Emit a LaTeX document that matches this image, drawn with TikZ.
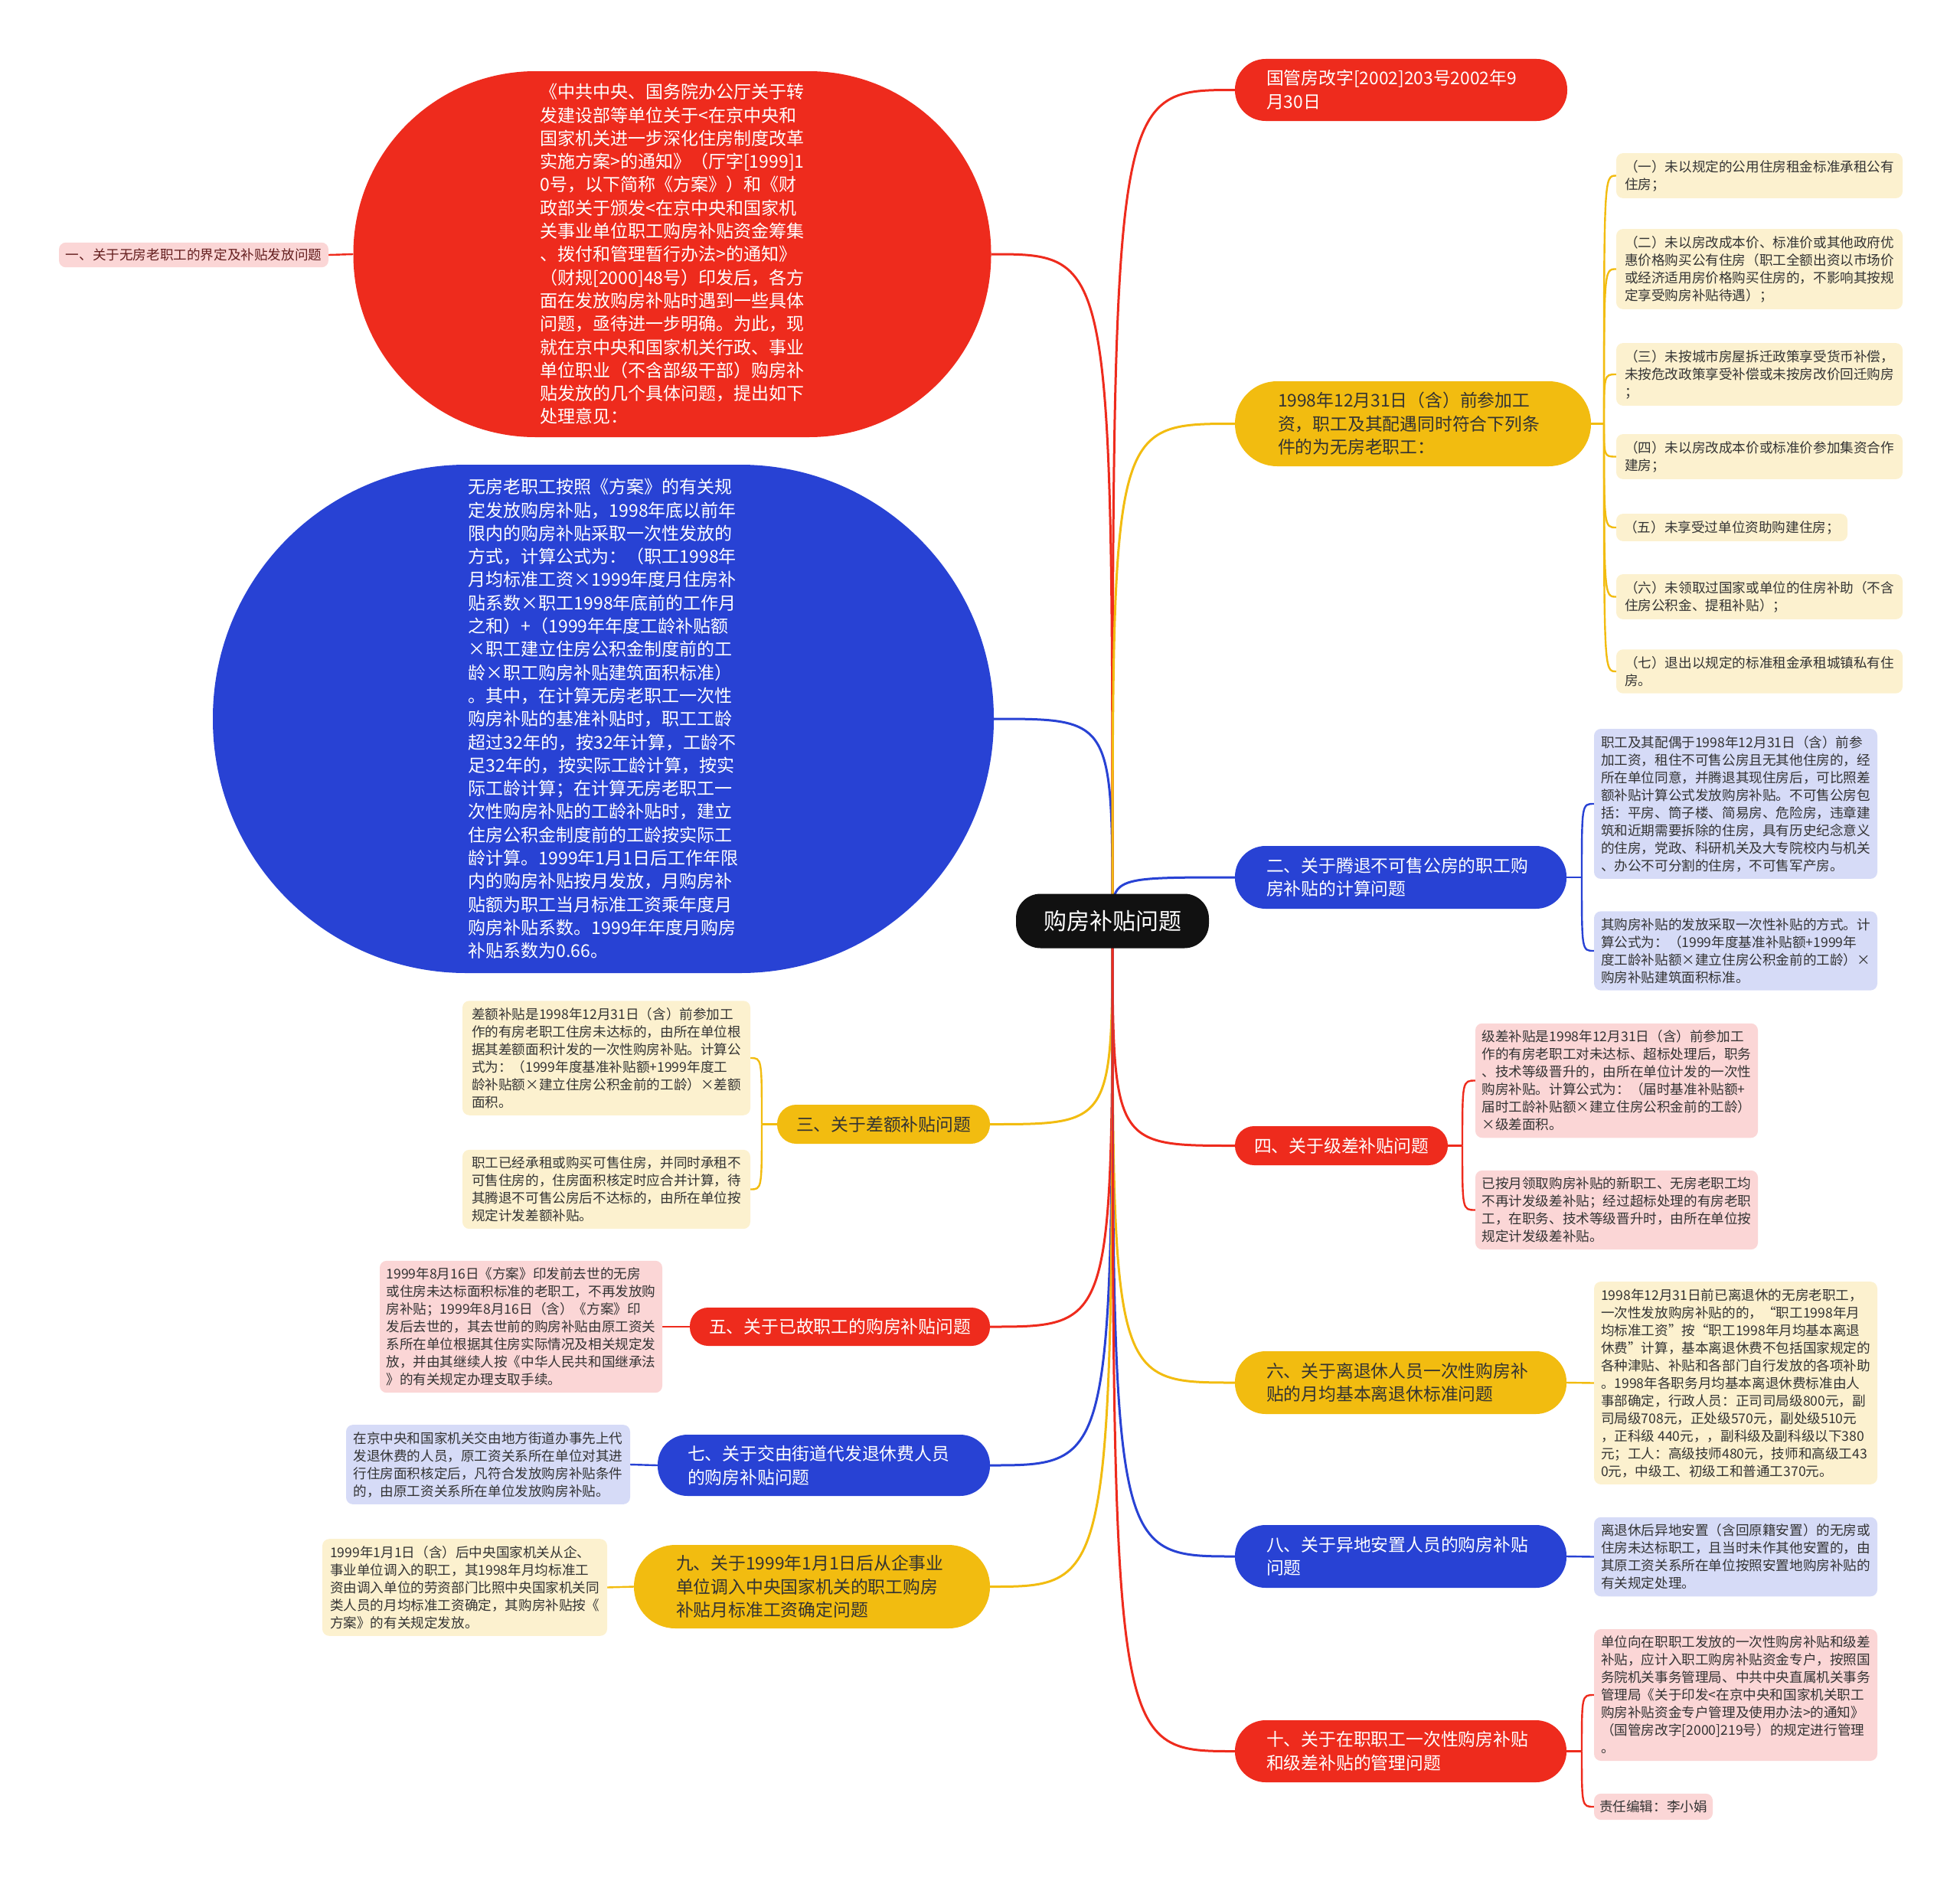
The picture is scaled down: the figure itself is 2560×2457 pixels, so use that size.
\documentclass[tikz,border=0pt]{standalone}
\usepackage{fontspec}
\setmainfont{Noto Sans CJK SC}
\usetikzlibrary{backgrounds}
\definecolor{cred}{RGB}{238,43,29}
\definecolor{cblue}{RGB}{40,66,212}
\definecolor{cyel}{RGB}{242,188,16}
\definecolor{lyel}{RGB}{252,241,207}
\definecolor{lblue}{RGB}{214,219,247}
\definecolor{lpink}{RGB}{251,214,214}
\definecolor{ctext}{RGB}{51,51,51}
\definecolor{ltext}{RGB}{100,30,30}
\definecolor{cblack}{RGB}{17,17,17}
\tikzset{
  mainbox/.style={rectangle, inner sep=0pt, align=left, font=\fontsize{22.8}{30.5}\selectfont},
  ovaltext/.style={inner sep=0pt, align=left, text=white, font=\fontsize{23}{30.3}\selectfont},
  leaf/.style={rectangle, rounded corners=9, inner xsep=0pt, inner ysep=9pt, align=left, text=ctext, font=\fontsize{17.6}{23}\selectfont},
  mainline/.style={line width=3pt},
  subline/.style={line width=2.4pt},
}
\begin{document}
\begin{tikzpicture}[x=1pt,y=-1pt]
\useasboundingbox (0,0) rectangle (2560,2457);

% center
\node[fill=cblack, text=white, minimum width=252, minimum height=71, rounded corners=32, inner sep=0pt, font=\fontsize{30}{36}\selectfont] (ctr) at (1453,1203) {购房补贴问题};

% red oval
\node[fill=cred, minimum width=833, minimum height=478, rounded corners=238, inner sep=0pt] (E1) at (878,332) {};
\node[ovaltext] (E1t) at (E1.center) {《中共中央、国务院办公厅关于转\\发建设部等单位关于<在京中央和\\国家机关进一步深化住房制度改革\\实施方案>的通知》（厅字[1999]1\\0号，以下简称《方案》）和《财\\政部关于颁发<在京中央和国家机\\关事业单位职工购房补贴资金筹集\\、拨付和管理暂行办法>的通知》\\（财规[2000]48号）印发后，各方\\面在发放购房补贴时遇到一些具体\\问题，亟待进一步明确。为此，现\\就在京中央和国家机关行政、事业\\单位职业（不含部级干部）购房补\\贴发放的几个具体问题，提出如下\\处理意见：};
\node[leaf, fill=lpink, text=ltext, minimum width=352, inner ysep=8pt] (L1) at (253,333) {一、关于无房老职工的界定及补贴发放问题};

% blue oval
\node[fill=cblue, minimum width=1020, minimum height=664, rounded corners=331, inner sep=0pt] (E2) at (788,939) {};
\node[ovaltext] (E2t) at (E2.center) {无房老职工按照《方案》的有关规\\定发放购房补贴，1998年底以前年\\限内的购房补贴采取一次性发放的\\方式，计算公式为：（职工1998年\\月均标准工资×1999年度月住房补\\贴系数×职工1998年底前的工作月\\之和）+（1999年年度工龄补贴额\\×职工建立住房公积金制度前的工\\龄×职工购房补贴建筑面积标准）\\。其中，在计算无房老职工一次性\\购房补贴的基准补贴时，职工工龄\\超过32年的，按32年计算，工龄不\\足32年的，按实际工龄计算，按实\\际工龄计算；在计算无房老职工一\\次性购房补贴的工龄补贴时，建立\\住房公积金制度前的工龄按实际工\\龄计算。1999年1月1日后工作年限\\内的购房补贴按月发放，月购房补\\贴额为职工当月标准工资乘年度月\\购房补贴系数。1999年年度月购房\\补贴系数为0.66。};

% left branches
\node[mainbox, fill=cyel, text=ctext, minimum width=278, minimum height=51, rounded corners=25, align=center] (L3) at (1154,1468.5) {三、关于差额补贴问题};
\node[leaf, fill=lyel, minimum width=376] (L3a) at (792,1382) {差额补贴是1998年12月31日（含）前参加工\\作的有房老职工住房未达标的，由所在单位根\\据其差额面积计发的一次性购房补贴。计算公\\式为：（1999年度基准补贴额+1999年度工\\龄补贴额×建立住房公积金前的工龄）×差额\\面积。};
\node[leaf, fill=lyel, minimum width=376] (L3b) at (792,1553.5) {职工已经承租或购买可售住房，并同时承租不\\可售住房的，住房面积核定时应合并计算，待\\其腾退不可售公房后不达标的，由所在单位按\\规定计发差额补贴。};

\node[mainbox, fill=cred, text=white, minimum width=392, minimum height=50, rounded corners=24, align=center] (L5) at (1097,1733) {五、关于已故职工的购房补贴问题};
\node[leaf, fill=lpink, minimum width=369] (L5a) at (680.5,1733) {1999年8月16日《方案》印发前去世的无房\\或住房未达标面积标准的老职工，不再发放购\\房补贴；1999年8月16日（含）《方案》印\\发后去世的，其去世前的购房补贴由原工资关\\系所在单位根据其住房实际情况及相关规定发\\放，并由其继续人按《中华人民共和国继承法\\》的有关规定办理支取手续。};

\node[mainbox, fill=cblue, text=white, minimum width=434, minimum height=80, rounded corners=39, text width=356] (L7) at (1076,1914) {七、关于交由街道代发退休费人员\\的购房补贴问题};
\node[leaf, fill=lblue, minimum width=371] (L7a) at (637.5,1913) {在京中央和国家机关交由地方街道办事先上代\\发退休费的人员，原工资关系所在单位对其进\\行住房面积核定后，凡符合发放购房补贴条件\\的，由原工资关系所在单位发放购房补贴。};

\node[mainbox, fill=cyel, text=ctext, minimum width=465, minimum height=109, rounded corners=54, text width=355] (L9) at (1060.5,2072.5) {九、关于1999年1月1日后从企事业\\单位调入中央国家机关的职工购房\\补贴月标准工资确定问题};
\node[leaf, fill=lyel, minimum width=372] (L9a) at (607,2073.5) {1999年1月1日（含）后中央国家机关从企、\\事业单位调入的职工，其1998年月均标准工\\资由调入单位的劳资部门比照中央国家机关同\\类人员的月均标准工资确定，其购房补贴按《\\方案》的有关规定发放。};

% right branches
\node[mainbox, fill=cred, text=white, minimum width=434, minimum height=81, rounded corners=40, text width=352] (R0) at (1830,117.5) {国管房改字[2002]203号2002年9\\月30日};

\node[mainbox, fill=cyel, text=ctext, minimum width=465, minimum height=111, rounded corners=55, text width=353] (R1) at (1845.5,553.5) {1998年12月31日（含）前参加工\\资，职工及其配遇同时符合下列条\\件的为无房老职工：};
\node[leaf, fill=lyel, minimum width=374] (R1a) at (2298,229.5) {（一）未以规定的公用住房租金标准承租公有\\住房；};
\node[leaf, fill=lyel, minimum width=374] (R1b) at (2298,351.5) {（二）未以房改成本价、标准价或其他政府优\\惠价格购买公有住房（职工全额出资以市场价\\或经济适用房价格购买住房的，不影响其按规\\定享受购房补贴待遇）；};
\node[leaf, fill=lyel, minimum width=374] (R1c) at (2298,489) {（三）未按城市房屋拆迁政策享受货币补偿，\\未按危改政策享受补偿或未按房改价回迁购房\\；};
\node[leaf, fill=lyel, minimum width=374] (R1d) at (2298,596.5) {（四）未以房改成本价或标准价参加集资合作\\建房；};
\node[leaf, fill=lyel, minimum width=302] (R1e) at (2262,689) {（五）未享受过单位资助购建住房；};
\node[leaf, fill=lyel, minimum width=374] (R1f) at (2298,779.5) {（六）未领取过国家或单位的住房补助（不含\\住房公积金、提租补贴）；};
\node[leaf, fill=lyel, minimum width=374] (R1g) at (2298,877) {（七）退出以规定的标准租金承租城镇私有住\\房。};

\node[mainbox, fill=cblue, text=white, minimum width=433, minimum height=82, rounded corners=40, text width=351] (R2) at (1829.5,1146) {二、关于腾退不可售公房的职工购\\房补贴的计算问题};
\node[leaf, fill=lblue, minimum width=370] (R2a) at (2267,1050) {职工及其配偶于1998年12月31日（含）前参\\加工资，租住不可售公房且无其他住房的，经\\所在单位同意，并腾退其现住房后，可比照差\\额补贴计算公式发放购房补贴。不可售公房包\\括：平房、筒子楼、简易房、危险房，违章建\\筑和近期需要拆除的住房，具有历史纪念意义\\的住房，党政、科研机关及大专院校内与机关\\、办公不可分割的住房，不可售军产房。};
\node[leaf, fill=lblue, minimum width=370] (R2b) at (2267,1242) {其购房补贴的发放采取一次性补贴的方式。计\\算公式为：（1999年度基准补贴额+1999年\\度工龄补贴额×建立住房公积金前的工龄）×\\购房补贴建筑面积标准。};

\node[mainbox, fill=cred, text=white, minimum width=278, minimum height=51, rounded corners=25, align=center] (R3) at (1752,1496.5) {四、关于级差补贴问题};
\node[leaf, fill=lpink, minimum width=369] (R3a) at (2111.5,1411.5) {级差补贴是1998年12月31日（含）前参加工\\作的有房老职工对未达标、超标处理后，职务\\、技术等级晋升的，由所在单位计发的一次性\\购房补贴。计算公式为：（届时基准补贴额+\\届时工龄补贴额×建立住房公积金前的工龄）\\×级差面积。};
\node[leaf, fill=lpink, minimum width=369] (R3b) at (2111.5,1580.5) {已按月领取购房补贴的新职工、无房老职工均\\不再计发级差补贴；经过超标处理的有房老职\\工，在职务、技术等级晋升时，由所在单位按\\规定计发级差补贴。};

\node[mainbox, fill=cyel, text=ctext, minimum width=433, minimum height=82, rounded corners=40, text width=351] (R4) at (1829.5,1806) {六、关于离退休人员一次性购房补\\贴的月均基本离退休标准问题};
\node[leaf, fill=lyel, minimum width=370] (R4a) at (2267,1806.5) {1998年12月31日前已离退休的无房老职工，\\一次性发放购房补贴的的，“职工1998年月\\均标准工资”按“职工1998年月均基本离退\\休费”计算，基本离退休费不包括国家规定的\\各种津贴、补贴和各部门自行发放的各项补助\\。1998年各职务月均基本离退休费标准由人\\事部确定，行政人员：正司司局级800元，副\\司局级708元，正处级570元，副处级510元\\，正科级 440元，，副科级及副科级以下380\\元；工人：高级技师480元，技师和高级工43\\0元，中级工、初级工和普通工370元。};

\node[mainbox, fill=cblue, text=white, minimum width=433, minimum height=82, rounded corners=40, text width=351] (R5) at (1829.5,2033) {八、关于异地安置人员的购房补贴\\问题};
\node[leaf, fill=lblue, minimum width=370] (R5a) at (2267,2033.5) {离退休后异地安置（含回原籍安置）的无房或\\住房未达标职工，且当时未作其他安置的，由\\其原工资关系所在单位按照安置地购房补贴的\\有关规定处理。};

\node[mainbox, fill=cred, text=white, minimum width=433, minimum height=81, rounded corners=40, text width=351] (R6) at (1829.5,2287.5) {十、关于在职职工一次性购房补贴\\和级差补贴的管理问题};
\node[leaf, fill=lpink, minimum width=370] (R6a) at (2267,2214) {单位向在职职工发放的一次性购房补贴和级差\\补贴，应计入职工购房补贴资金专户，按照国\\务院机关事务管理局、中共中央直属机关事务\\管理局《关于印发<在京中央和国家机关职工\\购房补贴资金专户管理及使用办法>的通知》\\（国管房改字[2000]219号）的规定进行管理\\。};
\node[leaf, fill=lpink, minimum width=155] (R6b) at (2159.5,2360) {责任编辑：李小娟};

% stub coordinates
\coordinate (R1s) at (2095,553.5);
\coordinate (R2s) at (2066,1146);
\coordinate (R3s) at (1910,1496.5);
\coordinate (R6s) at (2066,2287.5);
\coordinate (L3s) at (995,1468.5);

\begin{scope}[on background layer]
% main connectors
\draw[mainline, cred]  (ctr.center) .. controls (ctr.center |- E1.east) .. (E1.east);
\draw[mainline, cblue] (ctr.center) .. controls (ctr.center |- E2.east) .. (E2.east);
\draw[mainline, cyel]  (ctr.center) .. controls (ctr.center |- L3.east) .. (L3.east);
\draw[mainline, cred]  (ctr.center) .. controls (ctr.center |- L5.east) .. (L5.east);
\draw[mainline, cblue] (ctr.center) .. controls (ctr.center |- L7.east) .. (L7.east);
\draw[mainline, cyel]  (ctr.center) .. controls (ctr.center |- L9.east) .. (L9.east);
\draw[mainline, cred]  (ctr.center) .. controls (ctr.center |- R0.west) .. (R0.west);
\draw[mainline, cyel]  (ctr.center) .. controls (ctr.center |- R1.west) .. (R1.west);
\draw[mainline, cblue] (ctr.center) .. controls (ctr.center |- R2.west) .. (R2.west);
\draw[mainline, cred]  (ctr.center) .. controls (ctr.center |- R3.west) .. (R3.west);
\draw[mainline, cyel]  (ctr.center) .. controls (ctr.center |- R4.west) .. (R4.west);
\draw[mainline, cblue] (ctr.center) .. controls (ctr.center |- R5.west) .. (R5.west);
\draw[mainline, cred]  (ctr.center) .. controls (ctr.center |- R6.west) .. (R6.west);
% single children
\draw[subline, cred]  (E1.west) -- (L1.east);
\draw[subline, cred]  (L5.west) -- (L5a.east);
\draw[subline, cblue] (L7.west) -- (L7a.east);
\draw[subline, cyel]  (L9.west) -- (L9a.east);
\draw[subline, cyel]  (R4.east) -- (R4a.west);
\draw[subline, cblue] (R5.east) -- (R5a.west);
% brackets
\draw[subline, cyel] (R1.east) -- (R1s);
\foreach \c in {R1a,R1b,R1c,R1d,R1e,R1f,R1g}
  \draw[subline, cyel] (R1s) .. controls (R1s |- \c.west) .. (\c.west);
\draw[subline, cblue] (R2.east) -- (R2s);
\foreach \c in {R2a,R2b}
  \draw[subline, cblue] (R2s) .. controls (R2s |- \c.west) .. (\c.west);
\draw[subline, cred] (R3.east) -- (R3s);
\foreach \c in {R3a,R3b}
  \draw[subline, cred] (R3s) .. controls (R3s |- \c.west) .. (\c.west);
\draw[subline, cred] (R6.east) -- (R6s);
\foreach \c in {R6a,R6b}
  \draw[subline, cred] (R6s) .. controls (R6s |- \c.west) .. (\c.west);
\draw[subline, cyel] (L3.west) -- (L3s);
\foreach \c in {L3a,L3b}
  \draw[subline, cyel] (L3s) .. controls (L3s |- \c.east) .. (\c.east);
\end{scope}
\end{tikzpicture}
\end{document}
